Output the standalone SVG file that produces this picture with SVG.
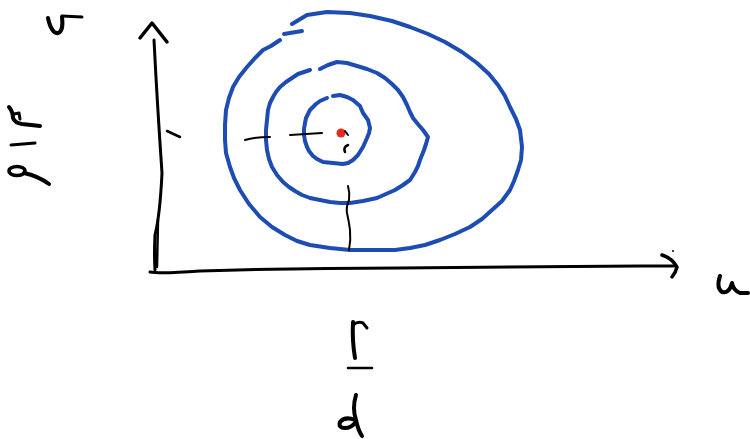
<svg xmlns="http://www.w3.org/2000/svg" width="750" height="439" viewBox="0 0 750 439">
<style>
.ink{fill:none;stroke:#000;stroke-linecap:round;stroke-linejoin:round}
.ring{fill:none;stroke:#1d4db3;stroke-width:4;stroke-linecap:round;stroke-linejoin:round}
</style>
<rect width="750" height="439" fill="#fff"/>
<g id="rings">
<path class="ring" d="M292,24 L307,15 L327,12 L350,13 L370,16 L392,21 L410,27 L428,34 L445,42 L462,52 L477,63 L489,74 L498,85 L505,96 L510,107 L516,119 L520,130 L522,147 L521,160 L518,170 L514,181 L510,190 L502,201 L492,210 L482,219 L470,227 L455,234 L440,240 L425,245 L410,248 L395,250 L380,250 L350,250 L330,248 L310,245 L297,241 L285,235 L272,227 L260,217 L249,204 L240,190 L234,178 L230,167 L226,153 L225,140 L225,125 L226,110 L229,98 L233,87 L239,77 L247,67 L255,58 L263,50 L271,46 L280,40"/>
<path class="ring" d="M284,34 L302,31"/>
<path class="ring" d="M320,69 L328,65 L337,62 L347,63 L357,66 L367,69 L377,73 L385,78 L392,84 L398,90 L403,97 L407,105 L410,112 L413,118 L417,123 L423,130 L428,137 L426,144 L424,150 L420,160 L418,166 L415,172 L410,180 L403,185 L395,190 L386,194 L377,198 L363,201 L350,203 L340,203 L330,202 L320,200 L310,198 L302,195 L295,191 L289,187 L283,182 L277,175 L272,167 L269,159 L267,150 L266,140 L266,130 L267,120 L268,110 L270,103 L273,97 L276,92 L280,87 L286,82 L292,78 L298,74 L310,70"/>
<path class="ring" d="M333,96 L340,95 L347,97 L353,100 L360,106 L363,113 L368,120 L370,128 L369,133 L367,138 L363,147 L358,155 L353,160 L348,163 L343,164 L333,163 L323,162 L317,159 L313,156 L309,151 L307,147 L305,141 L304,135 L304,129 L305,123 L306,118 L308,114 L310,110 L313,107 L316,104 L320,101 L327,98"/>
<circle cx="341" cy="133" r="4.5" fill="#e8291c"/>
</g>
<g id="marks">
<path class="ink" stroke-width="2" d="M245,140 Q255,137 270,137"/>
<path class="ink" stroke-width="2" d="M290,135 L322,133"/>
<path class="ink" stroke-width="2" d="M345,131 L348,135"/>
<path class="ink" stroke-width="2.5" d="M348,145 Q343,147 345,152"/>
<path class="ink" stroke-width="2" d="M348,186 Q350,193 349,200 Q346,207 347,213 Q349,222 350,230 Q351,240 349,250"/>
<path class="ink" stroke-width="2.5" d="M167,131 L180,137"/>
</g>
<g id="axes">
<path class="ink" stroke-width="3" d="M154,40 Q157,100 162,173 Q160,215 155,235 Q154,255 155,270"/>
<path class="ink" stroke-width="2.5" d="M158,220 L157,267"/>
<path class="ink" stroke-width="3.5" d="M140,38 L152,23 L167,42"/>
<path class="ink" stroke-width="3" d="M150,272 Q160,274 200,271 Q300,268 400,268 L640,266 L676,266"/>
<path class="ink" stroke-width="3.5" d="M662,255 Q672,258 677,267 Q676,272 672,277"/>
<circle cx="673" cy="251" r="1" fill="#000"/>
</g>
<g id="labels">
<path class="ink" stroke-width="4" d="M48,18 C50,28 54,34 58,33 C62,32 63,25 62,17"/>
<path class="ink" stroke-width="3" d="M62,16 L82,17"/>
<path class="ink" stroke-width="4" d="M9,107 Q13,112 13,118 Q15,123 22,124 L40,126"/>
<path class="ink" stroke-width="3" d="M14,114 L19,113 L20,119"/>
<path class="ink" stroke-width="3" d="M11,145 L35,143"/>
<ellipse class="ink" stroke-width="3.5" cx="17" cy="171" rx="8" ry="4.5"/>
<path class="ink" stroke-width="4" d="M24,173 Q38,176 49,184"/>
<path class="ink" stroke-width="4" d="M720,276 Q716,288 722,292 Q729,294 732,283 Q733,290 740,293 L748,293"/>
<path class="ink" stroke-width="4" d="M353,322 Q352,340 355,358"/>
<path class="ink" stroke-width="3" d="M353,325 Q358,321 363,323 L367,328"/>
<path class="ink" stroke-width="2.5" d="M348,368 L372,368"/>
<path class="ink" stroke-width="4" d="M356,395 Q352,408 356,420 Q358,430 362,436"/>
<path class="ink" stroke-width="4" d="M355,420 Q345,416 340,422 Q338,428 345,428 Q351,428 355,423"/>
</g>
</svg>
